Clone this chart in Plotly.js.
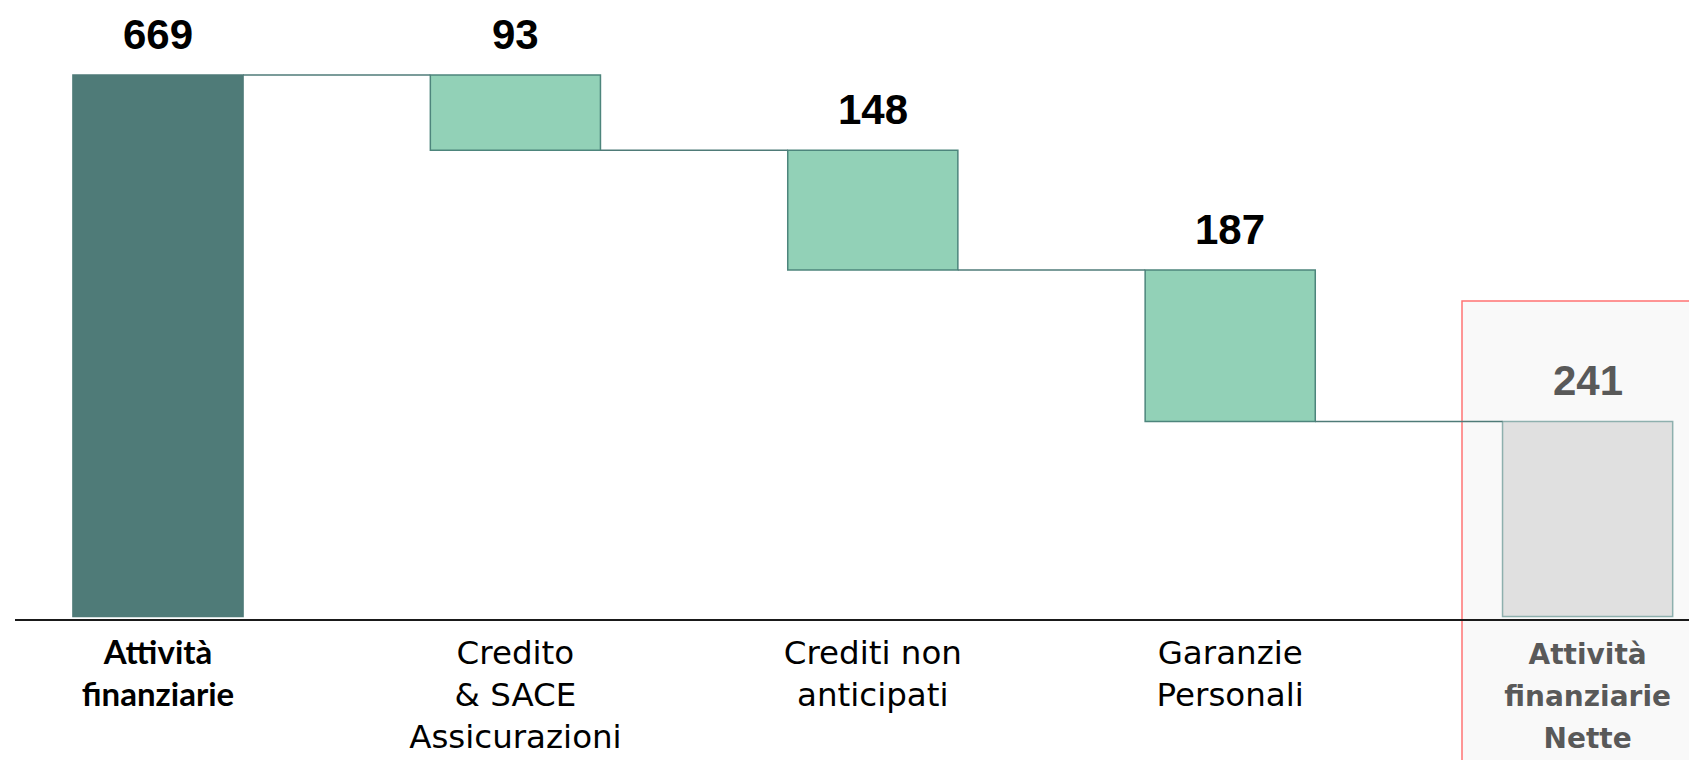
<!DOCTYPE html>
<html>
<head>
<meta charset="utf-8">
<script src="https://cdn.plot.ly/plotly-3.0.1.min.js"></script>
<style>html,body{margin:0;padding:0;background:#fff;}#chart{width:1689px;height:760px;}</style>
</head>
<body>
<div id="chart"></div>
<script>
// ---- data ----
var categories = ["Attività finanziarie", "Credito & SACE Assicurazioni", "Crediti non anticipati", "Garanzie Personali", "Attività finanziarie Nette"];
var tickLabels = [
  '<span style="font-family:Lato;font-weight:bold;font-size:33px">Attività</span><br><span style="font-family:Lato;font-weight:bold;font-size:33px">finanziarie</span>',
  'Credito<br>&amp; SACE<br>Assicurazioni',
  'Crediti non<br>anticipati',
  'Garanzie<br>Personali',
  '<span style="font-family:\'DejaVu Sans\';font-weight:bold;font-size:28px;fill:#595959">Attività</span><br><span style="font-family:\'DejaVu Sans\';font-weight:bold;font-size:28px;fill:#595959">finanziarie</span><br><span style="font-family:\'DejaVu Sans\';font-weight:bold;font-size:28px;fill:#595959">Nette</span>'
];
var values = [669, 93, 148, 187, 241];
var measures = ["absolute", "decrease", "decrease", "decrease", "total"];

// ---- derived positions from data ----
var xs = [], bases = [], tops = [];
var running = 0;
for (var i = 0; i < values.length; i++) {
  xs.push(i);
  if (measures[i] === "absolute") { bases.push(0); running = values[i]; tops.push(running); }
  else if (measures[i] === "decrease") { tops.push(running); running -= values[i]; bases.push(running); }
  else { bases.push(0); tops.push(running); }
}
var levels = []; // level after each bar
var r = 0;
for (var j = 0; j < values.length; j++) {
  if (measures[j] === "absolute" || measures[j] === "total") r = values[j];
  else r -= values[j];
  levels.push(r);
}

var barWidth = 0.476;
var hw = barWidth / 2;
var cx = [], cy = [];
for (var k = 0; k < values.length - 1; k++) {
  cx.push(xs[k] + hw, xs[k + 1] - hw, null);
  cy.push(levels[k], levels[k], null);
}

var fillColors = ["#4f7b78", "#92d1b7", "#92d1b7", "#92d1b7", "#e0e0e0"];
var lineColors = ["#4f7b78", "#4d857c", "#4d857c", "#4d857c", "#8eb0ae"];
var textColors = ["#000", "#000", "#000", "#000", "#595959"];

var traces = [
  {
    type: "scatter", mode: "lines", x: cx, y: cy,
    line: {color: "#4f7b78", width: 1.5},
    hoverinfo: "skip", showlegend: false
  },
  {
    type: "bar", x: xs, y: values, base: bases, width: barWidth,
    marker: {color: fillColors, line: {color: lineColors, width: 1.5}},
    hoverinfo: "skip", showlegend: false
  }
];

var annotations = [];
for (var a = 0; a < values.length; a++) {
  annotations.push({
    x: xs[a], y: tops[a], xref: "x", yref: "y",
    text: "<b>" + values[a] + "</b>", showarrow: false,
    yanchor: "middle", yshift: 41,
    font: {family: "Liberation Sans, Arial, sans-serif", size: 42, color: textColors[a]}
  });
}

var layout = {
  width: 1689, height: 760,
  margin: {l: 15, r: 0, t: 0, b: 141, pad: 0},
  paper_bgcolor: "#ffffff",
  plot_bgcolor: "rgba(0,0,0,0)",
  showlegend: false,
  xaxis: {
    range: [-0.4001, 4.2837], tickvals: xs, ticktext: tickLabels,
    showgrid: false, zeroline: false, showline: true, linecolor: "#1a1a1a", linewidth: 1.5,
    ticks: "", tickangle: 0, ticklabelstandoff: 4,
    tickfont: {family: "DejaVu Sans, sans-serif", size: 32.5, color: "#000"}
  },
  yaxis: {
    range: [-3.1, 761.7], showgrid: false, zeroline: false, showline: false,
    showticklabels: false, ticks: ""
  },
  shapes: [{
    type: "rect", xref: "paper", yref: "paper",
    x0: 0.8644, x1: 1.02, y0: -0.3, y1: 0.5137,
    fillcolor: "#f9f9f9", line: {color: "#ff7373", width: 1.5}, layer: "below"
  }],
  annotations: annotations
};

Plotly.newPlot("chart", traces, layout, {displayModeBar: false, staticPlot: true});
</script>
</body>
</html>
